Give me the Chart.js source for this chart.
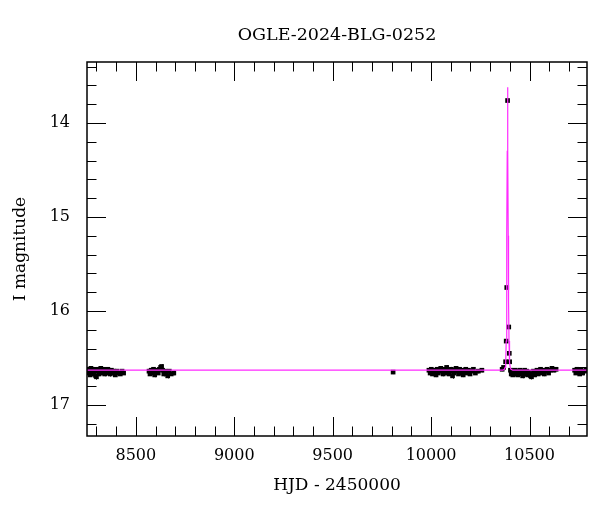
<!DOCTYPE html>
<html>
<head>
<meta charset="utf-8">
<title>OGLE-2024-BLG-0252</title>
<script src="https://cdn.jsdelivr.net/npm/chart.js@4/dist/chart.umd.min.js"></script>
<style>
    html, body { margin: 0; padding: 0; background: #fff; }
    #lc { display: block; }
</style>
</head>
<body>
<canvas id="lc" width="600" height="512"></canvas>
<script>
// OGLE light curve: I magnitude vs HJD - 2450000

const chartTitle = 'OGLE-2024-BLG-0252';

// observed points, grouped by season
const obsHjd = [
    8257, 8261, 8265, 8268, 8272, 8276, 8280, 8284, 8288, 8292, 8296, 8300, 8304, 8309, 8313, 8318, 8322, 8327,
    8332, 8337, 8342, 8347, 8353, 8358, 8364, 8370, 8376, 8382, 8389, 8396, 8404, 8412, 8421, 8430, 8438,
    8567, 8572, 8578, 8584, 8590, 8596, 8602, 8608, 8614, 8620, 8626, 8631, 8636, 8642, 8648, 8655, 8662, 8670, 8680, 8693,
    9807,
    9989, 9995, 10001, 10007, 10013, 10019, 10025, 10031, 10037, 10043, 10049, 10055, 10061, 10067, 10073, 10079,
    10085, 10091, 10097, 10103, 10109, 10115, 10121, 10127, 10133, 10139, 10145, 10151, 10157, 10163, 10169, 10176,
    10183, 10190, 10198, 10206, 10215, 10225, 10240, 10258,
    10361, 10368, 10378.5, 10381.5, 10384.3, 10388.5, 10394.5, 10397.2, 10399,
    10403, 10407, 10411, 10415, 10420, 10425, 10430, 10435, 10440, 10445, 10450, 10455, 10460, 10465, 10470, 10475,
    10480, 10485, 10490, 10495, 10500, 10505, 10510, 10515, 10520, 10526, 10532, 10538, 10544, 10550, 10556, 10562,
    10568, 10575, 10582, 10589, 10597, 10605, 10614, 10624, 10635,
    10729, 10735, 10741, 10748, 10755, 10762, 10770, 10779, 10788
];
const obsMag = [
    16.62, 16.66, 16.63, 16.68, 16.61, 16.64, 16.67, 16.62, 16.66, 16.63, 16.69, 16.70, 16.64, 16.62, 16.67, 16.63, 16.61, 16.66,
    16.64, 16.62, 16.67, 16.63, 16.66, 16.62, 16.64, 16.67, 16.63, 16.66, 16.64, 16.68, 16.64, 16.66, 16.67, 16.64, 16.66,
    16.64, 16.67, 16.63, 16.66, 16.62, 16.68, 16.64, 16.63, 16.66, 16.62, 16.60, 16.59, 16.63, 16.67, 16.64, 16.66, 16.69, 16.64, 16.67, 16.66,
    16.65,
    16.63, 16.66, 16.62, 16.67, 16.64, 16.63, 16.68, 16.62, 16.66, 16.63, 16.61, 16.64, 16.67, 16.62, 16.66, 16.60,
    16.63, 16.67, 16.64, 16.62, 16.69, 16.66, 16.63, 16.61, 16.64, 16.67, 16.62, 16.66, 16.63, 16.68, 16.64, 16.62,
    16.66, 16.63, 16.67, 16.64, 16.62, 16.66, 16.64, 16.63,
    16.62, 16.60, 16.54, 16.32, 15.75, 13.76, 16.17, 16.45, 16.54,
    16.63, 16.67, 16.64, 16.68, 16.65, 16.63, 16.67, 16.64, 16.68, 16.65, 16.63, 16.67, 16.64, 16.69, 16.65, 16.63,
    16.67, 16.64, 16.68, 16.65, 16.67, 16.69, 16.70, 16.67, 16.64, 16.68, 16.65, 16.63, 16.67, 16.64, 16.62, 16.66,
    16.63, 16.67, 16.64, 16.62, 16.66, 16.63, 16.61, 16.63, 16.62,
    16.63, 16.66, 16.62, 16.64, 16.67, 16.63, 16.66, 16.64, 16.63
];
const obsErr = [
    0.022, 0.018, 0.025, 0.020, 0.023, 0.019, 0.028, 0.021, 0.018, 0.024, 0.020, 0.030, 0.021, 0.019, 0.023, 0.020, 0.025, 0.018,
    0.021, 0.019, 0.024, 0.020, 0.023, 0.018, 0.021, 0.027, 0.019, 0.020, 0.023, 0.021, 0.019, 0.024, 0.020, 0.021, 0.019,
    0.023, 0.020, 0.025, 0.019, 0.021, 0.024, 0.020, 0.023, 0.019, 0.021, 0.020, 0.023, 0.019, 0.025, 0.021, 0.020, 0.027, 0.021, 0.019, 0.023,
    0.021,
    0.020, 0.023, 0.019, 0.021, 0.024, 0.020, 0.023, 0.019, 0.021, 0.020, 0.023, 0.019, 0.024, 0.021, 0.020, 0.023,
    0.019, 0.021, 0.020, 0.025, 0.030, 0.021, 0.019, 0.023, 0.020, 0.021, 0.019, 0.024, 0.020, 0.023, 0.021, 0.019,
    0.023, 0.020, 0.021, 0.019, 0.024, 0.020, 0.023, 0.021,
    0.020, 0.021, 0.018, 0.015, 0.012, 0.010, 0.014, 0.015, 0.018,
    0.021, 0.020, 0.023, 0.019, 0.024, 0.021, 0.020, 0.023, 0.019, 0.021, 0.020, 0.023, 0.019, 0.025, 0.021, 0.020,
    0.023, 0.019, 0.021, 0.020, 0.023, 0.030, 0.028, 0.021, 0.020, 0.023, 0.019, 0.021, 0.020, 0.023, 0.019, 0.021,
    0.020, 0.023, 0.019, 0.021, 0.020, 0.023, 0.019, 0.021, 0.020,
    0.021, 0.020, 0.023, 0.019, 0.021, 0.020, 0.023, 0.019, 0.021
];

// microlensing model curve
const modelHjd = [8252, 10365, 10372, 10376, 10379, 10381.5, 10383.5, 10385, 10386.8, 10388.5,
    10390, 10391.8, 10393.5, 10395.8, 10398.5, 10402, 10406, 10415, 10792];
const modelMag = [16.63, 16.63, 16.62, 16.60, 16.55, 16.32, 15.9, 15.2, 14.3, 13.62,
    14.3, 15.2, 15.9, 16.32, 16.55, 16.60, 16.62, 16.63, 16.63];

// axes
const xRange = [8252, 10792];
const yRange = [13.35, 17.33];
const xMajorTicks = [8500, 9000, 9500, 10000, 10500];
const yMajorTicks = [14, 15, 16, 17];
const X_MINOR_STEP = 100;
const Y_MINOR_STEP = 0.2;

const FONT = '"DejaVu Serif", "Liberation Serif", serif';
const MAJOR_LEN = 19;
const MINOR_LEN = 9.5;

Chart.defaults.color = '#000';
Chart.defaults.font.family = FONT;

// error bars under the points
const errorBars = {
    id: 'errorBars',
    beforeDatasetsDraw(chart) {
        const { ctx, scales: { x, y } } = chart;
        ctx.save();
        ctx.strokeStyle = '#000';
        ctx.lineWidth = 1;
        ctx.beginPath();
        obsHjd.forEach((t, i) => {
            const px = Math.round(x.getPixelForValue(t)) + 0.5;
            ctx.moveTo(px, y.getPixelForValue(obsMag[i] - obsErr[i]));
            ctx.lineTo(px, y.getPixelForValue(obsMag[i] + obsErr[i]));
        });
        ctx.stroke();
        ctx.restore();
    }
};

// frame with inward ticks on all four sides, title centred over the plot
const frameTicks = {
    id: 'frameTicks',
    afterDraw(chart) {
        const { ctx, chartArea: a, scales: { x, y } } = chart;
        ctx.save();
        ctx.strokeStyle = '#000';
        ctx.lineWidth = 1;
        ctx.beginPath();
        for (let v = Math.ceil(x.min / X_MINOR_STEP) * X_MINOR_STEP; v <= x.max; v += X_MINOR_STEP) {
            const px = Math.round(x.getPixelForValue(v)) + 0.5;
            const len = xMajorTicks.includes(v) ? MAJOR_LEN : MINOR_LEN;
            ctx.moveTo(px, a.bottom); ctx.lineTo(px, a.bottom - len);
            ctx.moveTo(px, a.top); ctx.lineTo(px, a.top + len);
        }
        for (let i = Math.ceil(y.min / Y_MINOR_STEP); i * Y_MINOR_STEP <= y.max; i++) {
            const v = Math.round(i * Y_MINOR_STEP * 10) / 10;
            const py = Math.round(y.getPixelForValue(v)) + 0.5;
            const len = yMajorTicks.includes(v) ? MAJOR_LEN : MINOR_LEN;
            ctx.moveTo(a.left, py); ctx.lineTo(a.left + len, py);
            ctx.moveTo(a.right, py); ctx.lineTo(a.right - len, py);
        }
        ctx.stroke();
        ctx.lineWidth = 1.5;
        ctx.strokeRect(a.left, a.top, a.width, a.height);

        ctx.fillStyle = '#000';
        ctx.font = '17.5px ' + FONT;
        ctx.textAlign = 'center';
        ctx.textBaseline = 'middle';
        ctx.fillText(chartTitle, (a.left + a.right) / 2, 35);
        ctx.restore();
    }
};

const obsPoints = obsHjd.map((t, i) => ({ x: t, y: obsMag[i] }));
const modelPoints = modelHjd.map((t, i) => ({ x: t, y: modelMag[i] }));

new Chart(document.getElementById('lc'), {
    type: 'scatter',
    data: {
        datasets: [
            {
                label: 'model',
                data: modelPoints,
                showLine: true,
                borderColor: '#ff2bff',
                borderWidth: 1.2,
                pointRadius: 0,
                tension: 0,
                order: 0
            },
            {
                label: 'OGLE I',
                data: obsPoints,
                pointStyle: 'rect',
                pointRadius: 3.3,
                backgroundColor: '#000',
                borderColor: '#000',
                borderWidth: 0,
                order: 1
            }
        ]
    },
    options: {
        responsive: false,
        animation: false,
        layout: { padding: { left: 0, right: 13, top: 62, bottom: 0 } },
        plugins: {
            legend: { display: false },
            tooltip: { enabled: false },
            title: { display: false }
        },
        scales: {
            x: {
                type: 'linear',
                min: xRange[0],
                max: xRange[1],
                afterBuildTicks: s => { s.ticks = xMajorTicks.map(v => ({ value: v })); },
                afterFit: s => { s.height = 76; },
                grid: { display: false },
                border: { display: false },
                ticks: { font: { size: 16 }, padding: 2, maxRotation: 0, callback: v => String(v) },
                title: {
                    display: true,
                    text: 'HJD - 2450000',
                    font: { size: 17 },
                    padding: { top: 0, bottom: 16 }
                }
            },
            y: {
                type: 'linear',
                reverse: true,
                min: yRange[0],
                max: yRange[1],
                afterBuildTicks: s => { s.ticks = yMajorTicks.map(v => ({ value: v })); },
                afterFit: s => { s.width = 87; },
                grid: { display: false },
                border: { display: false },
                ticks: { font: { size: 16 }, padding: 9, callback: v => String(v) },
                title: {
                    display: true,
                    text: 'I magnitude',
                    font: { size: 17 },
                    padding: { top: 10, bottom: 0 }
                }
            }
        }
    },
    plugins: [errorBars, frameTicks]
});
</script>
</body>
</html>
